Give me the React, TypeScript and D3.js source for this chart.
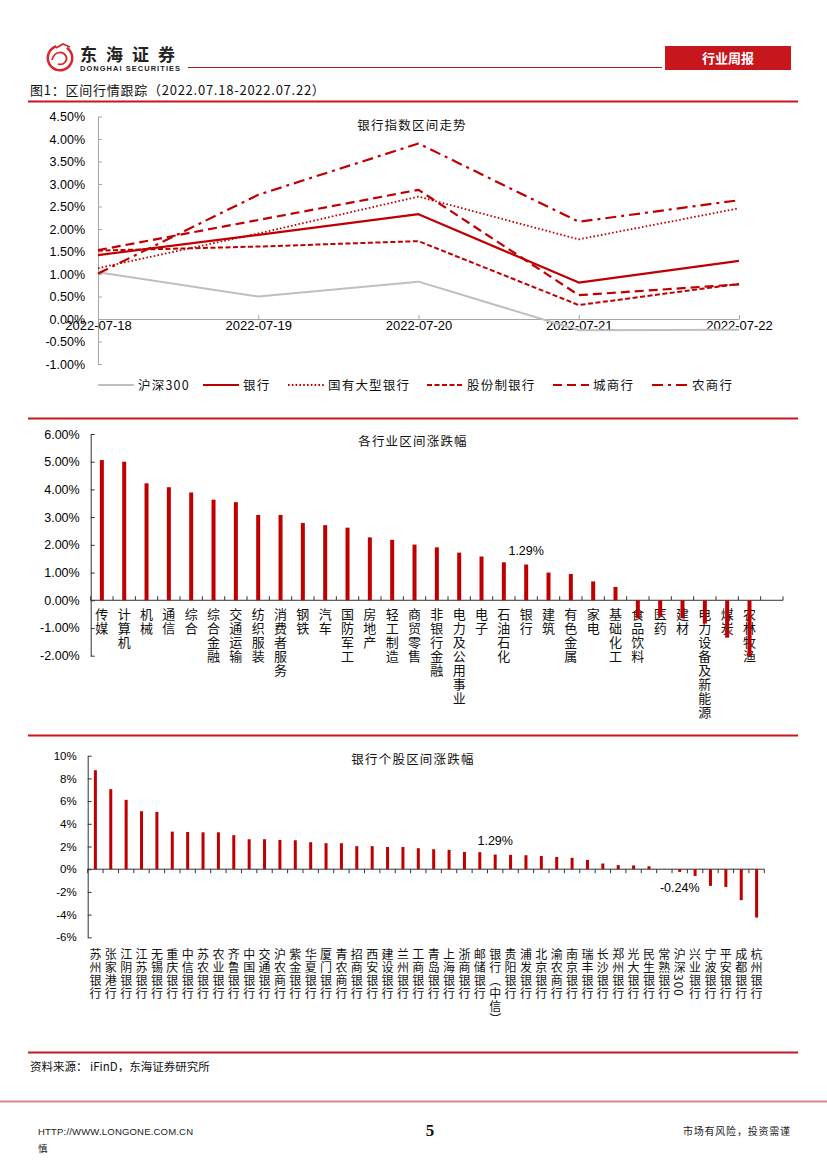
import * as d3 from "d3";
import React, { useRef, useEffect } from "react";

const W = 827;
const H = 1169;
const RED = "#C00000";
const CN = "'Noto Sans CJK SC', sans-serif";
const EN = "'Liberation Sans', Arial, sans-serif";

// 图1 上：银行指数区间走势
const dates = ["2022-07-18", "2022-07-19", "2022-07-20", "2022-07-21", "2022-07-22"];
const seriesNames = ["沪深300", "银行", "国有大型银行", "股份制银行", "城商行", "农商行"];
const hs300 = [1.04, 0.5, 0.83, -0.25, -0.24];
const bankIdx = [1.42, 1.87, 2.33, 0.81, 1.29];
const bigBank = [1.13, 1.9, 2.72, 1.77, 2.46];
const jointBank = [1.52, 1.61, 1.73, 0.31, 0.78];
const cityBank = [1.53, 2.2, 2.87, 0.53, 0.77];
const ruralBank = [1.01, 2.76, 3.9, 2.16, 2.64];
const lineTicks = [-1, -0.5, 0, 0.5, 1, 1.5, 2, 2.5, 3, 3.5, 4, 4.5];

// 图1 中：各行业区间涨跌幅
const industries = [
  "传媒", "计算机", "机械", "通信", "综合", "综合金融", "交通运输", "纺织服装",
  "消费者服务", "钢铁", "汽车", "国防军工", "房地产", "轻工制造", "商贸零售",
  "非银行金融", "电力及公用事业", "电子", "石油石化", "银行", "建筑", "有色金属",
  "家电", "基础化工", "食品饮料", "医药", "建材", "电力设备及新能源", "煤炭", "农林牧渔",
];
const industryChg = [
  5.06, 5.0, 4.22, 4.08, 3.89, 3.63, 3.54, 3.08, 3.08, 2.79, 2.71, 2.62, 2.27, 2.18, 2.01,
  1.91, 1.72, 1.58, 1.37, 1.29, 1.0, 0.95, 0.68, 0.48, -0.65, -0.6, -0.65, -0.84, -1.35, -2.02,
];
const industryTicks = [-2, -1, 0, 1, 2, 3, 4, 5, 6];

// 图1 下：银行个股区间涨跌幅
const banks = [
  "苏州银行", "张家港行", "江阴银行", "江苏银行", "无锡银行", "重庆银行", "中信银行",
  "苏农银行", "农业银行", "齐鲁银行", "中国银行", "交通银行", "沪农商行", "紫金银行",
  "华夏银行", "厦门银行", "青农商行", "招商银行", "西安银行", "建设银行", "兰州银行",
  "工商银行", "青岛银行", "上海银行", "浙商银行", "邮储银行", "银行（中信）", "贵阳银行",
  "浦发银行", "北京银行", "渝农商行", "南京银行", "瑞丰银行", "长沙银行", "郑州银行",
  "光大银行", "民生银行", "常熟银行", "沪深300", "兴业银行", "宁波银行", "平安银行",
  "成都银行", "杭州银行",
];
const bankChg = [
  8.72, 7.05, 6.11, 5.11, 5.05, 3.31, 3.28, 3.25, 3.25, 3.0, 2.64, 2.64, 2.58, 2.55,
  2.38, 2.29, 2.29, 2.03, 2.03, 1.96, 1.96, 1.85, 1.76, 1.7, 1.52, 1.5, 1.29, 1.26,
  1.23, 1.17, 1.08, 1.0, 0.82, 0.5, 0.36, 0.33, 0.26, 0.02, -0.24, -0.59, -1.47, -1.56,
  -2.73, -4.26,
];
const bankTicks = [-6, -4, -2, 0, 2, 4, 6, 8, 10];

const lineStyles = [
  { color: "#BFBFBF", dash: null, width: 2 },
  { color: RED, dash: null, width: 2.2 },
  { color: RED, dash: "1.6,2.2", width: 1.8 },
  { color: RED, dash: "5,2.5", width: 2 },
  { color: RED, dash: "9,5", width: 2.2 },
  { color: RED, dash: "11,5,3,5", width: 2.2 },
];

function drawHeader(svg) {
  // logo
  svg.append("path")
    .attr("d", d3.arc()({ innerRadius: 11, outerRadius: 13.5, startAngle: 0.6, endAngle: 2 * Math.PI - 0.3 }))
    .attr("transform", "translate(60,58)")
    .attr("fill", "#D7262E");
  svg.append("path")
    .attr("d", "M52,60 C54,52 62,50 66,56 C68,60 64,66 58,64 M56,48 L63,44 L70,47")
    .attr("fill", "none").attr("stroke", "#D7262E").attr("stroke-width", 1.8);
  svg.append("text").attr("x", 80).attr("y", 60.5).text("东海证券")
    .attr("font-family", CN).attr("font-weight", "bold").attr("font-size", 17)
    .attr("letter-spacing", 9).attr("fill", "#222");
  svg.append("text").attr("x", 80).attr("y", 71).text("DONGHAI SECURITIES")
    .attr("font-family", EN).attr("font-weight", "bold").attr("font-size", 7.4)
    .attr("textLength", 100).attr("fill", "#222");
  svg.append("line").attr("x1", 188).attr("x2", 662).attr("y1", 67.5).attr("y2", 67.5)
    .attr("stroke", "#9E1B20").attr("stroke-width", 1);
  svg.append("rect").attr("x", 665).attr("y", 46).attr("width", 126).attr("height", 24).attr("fill", "#C8161D");
  svg.append("text").attr("x", 728).attr("y", 62.5).attr("text-anchor", "middle").text("行业周报")
    .attr("font-family", CN).attr("font-weight", "bold").attr("font-size", 13).attr("fill", "#fff");

  svg.append("text").attr("x", 30).attr("y", 95).text("图1：区间行情跟踪（2022.07.18-2022.07.22）")
    .attr("font-family", CN).attr("font-size", 13).attr("letter-spacing", 0.75).attr("fill", "#111");

  [101.5, 418.5, 735.5, 1052.5].forEach((yy) => {
    svg.append("line").attr("x1", 28).attr("x2", 798).attr("y1", yy).attr("y2", yy)
      .attr("stroke", "#C8161D").attr("stroke-width", 2.2);
  });

  svg.append("text").attr("x", 30).attr("y", 1071).text("资料来源： iFinD，东海证券研究所")
    .attr("font-family", CN).attr("font-size", 11.5).attr("fill", "#111");
  svg.append("line").attr("x1", 0).attr("x2", W).attr("y1", 1101.5).attr("y2", 1101.5)
    .attr("stroke", "#D88A8E").attr("stroke-width", 2);
  svg.append("text").attr("x", 38).attr("y", 1135).text("HTTP://WWW.LONGONE.COM.CN")
    .attr("font-family", EN).attr("font-size", 9.5).attr("textLength", 155).attr("fill", "#222");
  svg.append("text").attr("x", 38).attr("y", 1152).text("慎")
    .attr("font-family", CN).attr("font-size", 9.5).attr("fill", "#222");
  svg.append("text").attr("x", 430).attr("y", 1136).attr("text-anchor", "middle").text("5")
    .attr("font-family", "'Liberation Serif', serif").attr("font-weight", "bold").attr("font-size", 17).attr("fill", "#111");
  svg.append("text").attr("x", 683).attr("y", 1135).text("市场有风险，投资需谨")
    .attr("font-family", CN).attr("font-size", 10).attr("textLength", 107).attr("fill", "#222");
}

function styleAxis(g, color, fontSize, family) {
  g.select(".domain").attr("stroke", color);
  g.selectAll(".tick line").attr("stroke", color);
  g.selectAll(".tick text").attr("fill", "#000").attr("font-size", fontSize).attr("font-family", family);
}

function drawLineChart(svg) {
  const x = d3.scalePoint().domain(dates).range([98, 739]);
  const y = d3.scaleLinear().domain([-1, 4.5]).range([364, 116.5]);

  const yAxis = d3.axisLeft(y).tickValues(lineTicks).tickSizeInner(-4).tickSizeOuter(0)
    .tickPadding(13).tickFormat((d) => d.toFixed(2) + "%");
  const gy = svg.append("g").attr("transform", "translate(98,0)").call(yAxis);
  styleAxis(gy, "#A6A6A6", 12.5, EN);

  const xAxis = d3.axisBottom(x).tickSizeInner(-4).tickSizeOuter(0).tickPadding(2);
  const gx = svg.append("g").attr("transform", `translate(0,${y(0)})`).call(xAxis);
  styleAxis(gx, "#A6A6A6", 13, EN);

  svg.append("text").attr("x", 412).attr("y", 129.5).attr("text-anchor", "middle").text("银行指数区间走势")
    .attr("font-family", CN).attr("font-size", 12.5).attr("letter-spacing", 1.2).attr("fill", "#111");

  const allSeries = [hs300, bankIdx, bigBank, jointBank, cityBank, ruralBank];
  const line = d3.line().x((d, i) => x(dates[i])).y((d) => y(d));
  allSeries.forEach((s, k) => {
    const st = lineStyles[k];
    svg.append("path").attr("d", line(s)).attr("fill", "none")
      .attr("stroke", st.color).attr("stroke-width", st.width)
      .attr("stroke-dasharray", st.dash).attr("stroke-linejoin", "round");
  });

  // legend
  const legendX = [98, 203, 288, 427, 553, 652];
  seriesNames.forEach((name, k) => {
    const st = lineStyles[k];
    const lx = legendX[k];
    svg.append("line").attr("x1", lx).attr("x2", lx + 36).attr("y1", 385).attr("y2", 385)
      .attr("stroke", st.color).attr("stroke-width", st.width).attr("stroke-dasharray", st.dash);
    svg.append("text").attr("x", lx + 40).attr("y", 389.5).text(name)
      .attr("font-family", CN).attr("font-size", 12.5).attr("letter-spacing", 1.2).attr("fill", "#111");
  });
}

function drawBarChart(svg, opt) {
  const { names, values, slots, x0, x1, yMin, yMax, yBottom, yTop, ticks, fmt, tickFont,
    tickPad, title, titleY, labelTop, labelSize, barW, tickDown, notes } = opt;
  const x = d3.scaleBand().domain(d3.range(slots)).range([x0, x1]);
  const y = d3.scaleLinear().domain([yMin, yMax]).range([yBottom, yTop]);
  const bw = x.bandwidth();

  const yAxis = d3.axisLeft(y).tickValues(ticks).tickSizeInner(-4).tickSizeOuter(0)
    .tickPadding(tickPad).tickFormat(fmt);
  const gy = svg.append("g").attr("transform", `translate(${x0},0)`).call(yAxis);
  styleAxis(gy, "#333", tickFont, EN);

  // category axis on zero line
  svg.append("line").attr("x1", x0).attr("x2", x1).attr("y1", y(0)).attr("y2", y(0))
    .attr("stroke", "#333").attr("stroke-width", 1);
  svg.selectAll(null).data(d3.range(slots + 1)).enter().append("line")
    .attr("x1", (i) => (i < slots ? x(i) : x1)).attr("x2", (i) => (i < slots ? x(i) : x1))
    .attr("y1", y(0)).attr("y2", y(0) + (tickDown ? 4 : -4))
    .attr("stroke", "#333").attr("stroke-width", 1);

  svg.append("text").attr("x", 413).attr("y", titleY).attr("text-anchor", "middle").text(title)
    .attr("font-family", CN).attr("font-size", 12.5).attr("letter-spacing", 1.2).attr("fill", "#111");

  // vertical category labels
  svg.selectAll(null).data(names).enter().append("text")
    .attr("x", (d, i) => x(i) + bw / 2).attr("y", labelTop)
    .style("writing-mode", "vertical-rl")
    .attr("font-family", CN).attr("font-size", labelSize).attr("letter-spacing", 1)
    .attr("fill", "#111").text((d) => d);

  svg.selectAll(null).data(values).enter().append("rect")
    .attr("x", (d, i) => x(i) + bw / 2 - barW / 2)
    .attr("y", (d) => Math.min(y(d), y(0)))
    .attr("width", barW)
    .attr("height", (d) => Math.abs(y(d) - y(0)))
    .attr("fill", "#C00000");

  notes.forEach((n) => {
    const v = values[n.idx];
    const yy = v >= 0 ? y(v) - 10 : y(v) + 20;
    svg.append("text").attr("x", x(n.idx) + bw / 2).attr("y", yy).attr("text-anchor", "middle")
      .text(n.text).attr("font-family", EN).attr("font-size", 12.5).attr("fill", "#000");
  });
}

function App() {
  const ref = useRef(null);

  useEffect(() => {
    const svg = d3.select(ref.current);
    svg.selectAll("*").remove();
    svg.append("rect").attr("width", W).attr("height", H).attr("fill", "#fff");
    drawHeader(svg);
    drawLineChart(svg);
    drawBarChart(svg, {
      names: industries, values: industryChg, slots: 31, x0: 90.7, x1: 783,
      yMin: -2, yMax: 6, yBottom: 655.7, yTop: 434, ticks: industryTicks,
      fmt: (d) => d.toFixed(2) + "%", tickFont: 12.5, tickPad: 11,
      title: "各行业区间涨跌幅", titleY: 446, labelTop: 608, labelSize: 13, barW: 4,
      tickDown: false, notes: [{ idx: 19, text: "1.29%" }],
    });
    drawBarChart(svg, {
      names: banks, values: bankChg, slots: 44, x0: 87.7, x1: 764.3,
      yMin: -6, yMax: 10, yBottom: 937.3, yTop: 755.7, ticks: bankTicks,
      fmt: (d) => d + "%", tickFont: 11.5, tickPad: 11,
      title: "银行个股区间涨跌幅", titleY: 764, labelTop: 948, labelSize: 12, barW: 3,
      tickDown: true, notes: [{ idx: 26, text: "1.29%" }, { idx: 38, text: "-0.24%" }],
    });
  }, []);

  return (
    <svg ref={ref} width={W} height={H} style={{ position: "absolute", left: 0, top: 0 }}></svg>
  );
}

export default App;
